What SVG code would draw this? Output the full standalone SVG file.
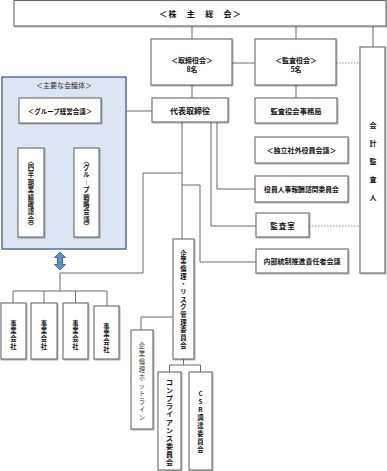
<svg xmlns="http://www.w3.org/2000/svg" width="387" height="471" viewBox="0 0 387 471">
<defs>
<filter id="sh" x="-10%" y="-10%" width="130%" height="130%">
<feDropShadow dx="0.8" dy="0.8" stdDeviation="0.4" flood-color="#000" flood-opacity="0.35"/>
</filter>
</defs>
<style>
.box{fill:#fff;stroke:#6b6b6b;stroke-width:1.1;filter:url(#sh)}
.ln{fill:none;stroke:#6b6b6b;stroke-width:1}
.dot{fill:none;stroke:#8a8a8a;stroke-width:1;stroke-dasharray:1.5 1.5}
.t{font-family:"Noto Sans CJK JP","Noto Sans CJK SC",sans-serif;font-weight:bold;font-size:7px;fill:#111;text-anchor:middle;dominant-baseline:central}
.vt{font-size:6.3px}
.n{font-weight:normal;fill:#333}
</style>
<rect width="387" height="471" fill="#fff"/>

<g id="connectors">
<line class="ln" x1="192" y1="26" x2="192" y2="39"/>
<line class="ln" x1="296" y1="26" x2="296" y2="39"/>
<line class="ln" x1="373" y1="26" x2="373" y2="47"/>
<line class="ln" x1="232" y1="63" x2="255" y2="63"/>
<line class="dot" x1="336" y1="63" x2="360" y2="63"/>
<line class="ln" x1="192" y1="85" x2="192" y2="98"/>
<line class="ln" x1="296" y1="85" x2="296" y2="98"/>
<line class="ln" x1="101" y1="111" x2="152" y2="111"/>
<polyline class="ln" points="60,123 60,134"/>
<polyline class="ln" points="31,148 31,134 87,134 87,148"/>
<polyline class="ln" points="217,122 217,189 255,189"/>
<polyline class="ln" points="211,122 211,226 256,226"/>
<line class="dot" x1="309" y1="226" x2="360" y2="226"/>
<line class="ln" x1="182" y1="122" x2="182" y2="239"/>
<polyline class="ln" points="182,173 143,173 143,273 60,273 60,291"/>
<polyline class="ln" points="182,185 200,185 200,262 256,262"/>
<line class="ln" x1="13" y1="291" x2="107" y2="291"/>
<line class="ln" x1="13" y1="291" x2="13" y2="303"/>
<line class="ln" x1="44" y1="291" x2="44" y2="303"/>
<line class="ln" x1="75.5" y1="291" x2="75.5" y2="303"/>
<line class="ln" x1="107" y1="291" x2="107" y2="306"/>
<polyline class="ln" points="173,317 141,317 141,330"/>
<line class="ln" x1="183.5" y1="359" x2="183.5" y2="365"/>
<polyline class="ln" points="169.5,372 169.5,365 200.5,365 200.5,372"/>
</g>

<g id="shareholders">
<rect class="box" x="14" y="0.5" width="372" height="25.5"/>
<text class="t" x="200.6" y="13" style="font-size:8px;letter-spacing:1.2px">＜株　主　総　会＞</text>
</g>

<g id="board">
<rect class="box" x="151" y="39" width="81" height="46"/>
<text class="t" x="192" y="59.5">＜取締役会＞</text>
<text class="t" x="192" y="69">8名</text>
</g>

<g id="auditboard">
<rect class="box" x="255" y="39" width="81" height="46"/>
<text class="t" x="296" y="59.5">＜監査役会＞</text>
<text class="t" x="296" y="69">5名</text>
</g>

<g id="accountant">
<rect class="box" x="360" y="47" width="25" height="226"/>
<text class="t" x="373 373 373 373 373" y="125 143 161 179 197">会計監査人</text>
</g>

<g id="mainbodies">
<rect x="2" y="77" width="124" height="172" fill="#dce6f2" stroke="#4f6fa0" stroke-width="1.5"/>
<text class="t n" x="64" y="85">＜主要な会議体＞</text>
</g>

<g id="groupmgmt">
<rect class="box" x="19" y="98" width="82" height="25"/>
<text class="t" x="60" y="110.5" style="font-size:6.5px">＜グループ経営会議＞</text>
</g>

<g id="quarterly">
<rect class="box" x="18" y="148" width="26" height="89"/>
<text class="t vt" x="31 31 31 31 31 31 31 31 31 31" y="160 167.4 174.8 182.2 189.6 197 204.4 211.8 219.2 226.6">︿四半期業績確認会﹀</text>
</g>

<g id="strategy">
<rect class="box" x="74" y="148" width="25" height="89"/>
<text class="t vt" x="86.5 86.5 86.5 86.5 86.5 86.5 86.5 86.5 86.5 86.5" y="160 167.4 174.8 182.2 189.6 197 204.4 211.8 219.2 226.6">︿グル︱プ戦略会議﹀</text>
</g>

<g id="arrow">
<path d="M60,252 L65.5,257.5 L62.5,257.5 L62.5,264.5 L65.5,264.5 L60,270 L54.5,264.5 L57.5,264.5 L57.5,257.5 L54.5,257.5 Z" fill="#5b8fd0" stroke="#2f5597" stroke-width="0.8"/>
</g>

<g id="president">
<rect class="box" x="152" y="98" width="76" height="24"/>
<text class="t" x="190" y="110" style="font-size:8px">代表取締役</text>
</g>

<g id="auditoffice">
<rect class="box" x="255" y="98" width="82" height="25"/>
<text class="t" x="296" y="110.5" style="font-size:7.3px">監査役会事務局</text>
</g>

<g id="independent">
<rect class="box" x="255" y="137" width="93" height="26"/>
<text class="t" x="301.5" y="150">＜独立社外役員会議＞</text>
</g>

<g id="nomination">
<rect class="box" x="255" y="176" width="93" height="26"/>
<text class="t" x="301.5" y="189" style="font-size:6.8px">役員人事報酬諮問委員会</text>
</g>

<g id="auditdept">
<rect class="box" x="256" y="213" width="53" height="24"/>
<text class="t" x="283" y="225.5" style="font-size:7.5px;letter-spacing:1px">監査室</text>
</g>

<g id="internalcontrol">
<rect class="box" x="256" y="249" width="92" height="24"/>
<text class="t" x="302" y="261">内部統制推進責任者会議</text>
</g>

<g id="ethicsrisk">
<rect class="box" x="173" y="239" width="21" height="120"/>
<text class="t vt" x="183.5 183.5 183.5 183.5 183.5 183.5 183.5 183.5 183.5 183.5 183.5 183.5 183.5" y="253 260.7 268.3 276 283.7 291.3 299 306.7 314.3 322 329.7 337.3 345">企業倫理・リスク管理委員会</text>
</g>

<g id="hotline">
<rect class="box" x="131" y="330" width="22" height="99"/>
<text class="t vt n" x="142 142 142 142 142 142 142 142 142 142" y="345 353 361 369 377 385 393 401 409 417">企業倫理ホットライン</text>
</g>

<g id="compliance">
<rect class="box" x="158" y="372" width="23" height="98"/>
<text class="t" x="169.5 169.5 169.5 169.5 169.5 169.5 169.5 169.5 169.5 169.5 169.5" y="382 390 398 406 414 422 430 438 446 454 462">コンプライアンス委員会</text>
</g>

<g id="csr">
<rect class="box" x="189" y="372" width="23" height="98"/>
<text class="t vt" x="200.5 200.5 200.5 200.5 200.5 200.5 200.5 200.5" y="393 401 409 417 425 433 441 449">CSR調達委員会</text>
</g>

<g id="company1">
<rect class="box" x="1" y="303" width="25" height="56"/>
<text class="t vt" x="13.5 13.5 13.5 13.5" y="323 330.7 338.4 346.1">事業会社</text>
</g>
<g id="company2">
<rect class="box" x="31" y="303" width="26" height="56"/>
<text class="t vt" x="44 44 44 44" y="323 330.7 338.4 346.1">事業会社</text>
</g>
<g id="company3">
<rect class="box" x="63" y="303" width="25" height="56"/>
<text class="t vt" x="75.5 75.5 75.5 75.5" y="323 330.7 338.4 346.1">事業会社</text>
</g>
<g id="company4">
<rect class="box" x="94" y="306" width="25" height="53"/>
<text class="t vt" x="106.5 106.5 106.5 106.5" y="326 333.7 341.4 349.1">事業会社</text>
</g>
</svg>
